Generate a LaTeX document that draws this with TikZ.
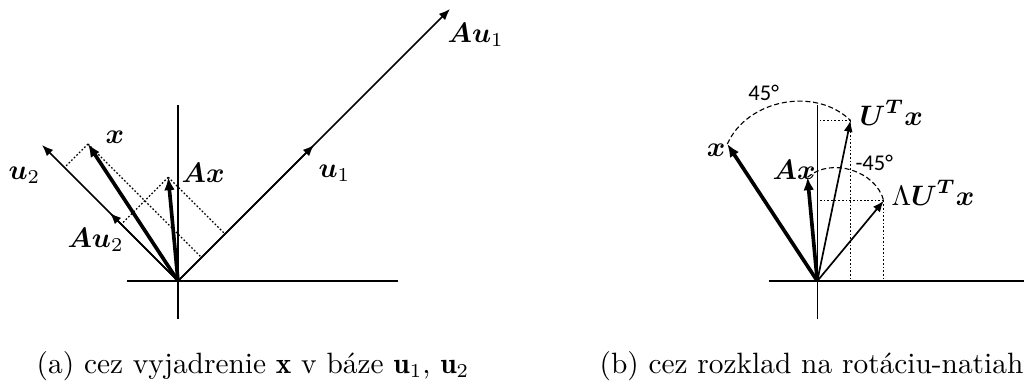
\documentclass[tikz,border=0pt]{standalone}
\usepackage{amsmath}
\usepackage{fontspec}
\newfontfamily\degfont{Carlito}
\usepackage{tikz}
\usetikzlibrary{arrows.meta}
\tikzset{
  axis/.style={line width=0.5pt},
  vec/.style={-{Latex[length=4pt,width=3.2pt]},line width=0.6pt},
  bvec/.style={vec,-{Latex[length=4.6pt,width=3.8pt]},line width=1.3pt},
  proj/.style={dash pattern=on 0.6pt off 0.7pt,line width=0.45pt},
  turn/.style={dash pattern=on 1.8pt off 1pt,line width=0.4pt},
  lbl/.style={anchor=west,inner sep=0pt},
  ang/.style={font=\degfont\footnotesize,inner sep=0pt},
  captxt/.style={font=\fontsize{10.45}{12.5}\selectfont,inner sep=0pt},
}

\begin{document}
\begin{tikzpicture}
  \useasboundingbox (0,0) rectangle (12.8,4.7625);
  % (a) x in the basis u1, u2
  \begin{scope}[shift={(2.225,1.25)}]
    \coordinate (o) at (0,0);
    \coordinate (u1) at (1.7,1.7);
    \coordinate (au1) at (3.4,3.4);
    \coordinate (u2) at (-1.7,1.7);
    \coordinate (au2) at (-0.85,0.85);
    \coordinate (x) at (-1.125,1.7125);
    \coordinate (ax) at (-0.122,1.297);
    \coordinate (px1) at (0.294,0.294);
    \coordinate (px2) at (-1.419,1.419);
    \coordinate (pa1) at (0.5875,0.5875);
    \coordinate (pa2) at (-0.709,0.709);
    \draw[axis] (-0.6375,0) -- (2.75,0);
    \draw[axis] (0,-0.475) -- (0,2.2);
    \draw[proj] (x) -- (px1);
    \draw[proj] (x) -- (px2);
    \draw[proj] (ax) -- (pa1);
    \draw[proj] (ax) -- (pa2);
    \draw[vec] (o) -- (au1);
    \draw[vec] (o) -- (u1);
    \draw[vec] (o) -- (u2);
    \draw[vec] (o) -- (au2);
    \draw[bvec] (o) -- (x);
    \draw[bvec] (o) -- (ax);
    \node[lbl] (lau1) at (3.3625,3.075) {$\boldsymbol{Au}_1$};
    \node[lbl] (lu1) at (1.75,1.35) {$\boldsymbol{u}_1$};
    \node[lbl] (lu2) at (-2.125,1.325) {$\boldsymbol{u}_2$};
    \node[lbl] (lx) at (-0.9125,1.8) {$\boldsymbol{x}$};
    \node[lbl] (lax) at (0.0375,1.35) {$\boldsymbol{Ax}$};
    \node[lbl] (lau2) at (-1.3875,0.5125) {$\boldsymbol{Au}_2$};
    \node[captxt,anchor=base] (capa) at (0.9375,-1.15) {(a) cez vyjadrenie $\mathbf{x}$ v báze $\mathbf{u}_1$, $\mathbf{u}_2$};
  \end{scope}
  % (b) rotation - stretch - rotation
  \begin{scope}[shift={(10.216,1.25)}]
    \coordinate (o) at (0,0);
    \coordinate (x) at (-1.125,1.7125);
    \coordinate (ax) at (-0.122,1.297);
    \coordinate (utx) at (0.4155,2.0065);
    \coordinate (lutx) at (0.831,1.003);
    \draw[axis] (-0.6075,0) -- (2.584,0);
    \draw[axis] (0,-0.475) -- (0,2.2);
    \draw[proj] (utx) -- (0,2.0065);
    \draw[proj] (utx) -- (0.4155,0);
    \draw[proj] (lutx) -- (0,1.003);
    \draw[proj] (lutx) -- (0.831,0);
    \draw[turn] (x) to[bend left=55] (utx);
    \draw[turn] (ax) to[bend left=58] (lutx);
    \draw[bvec] (o) -- (x);
    \draw[bvec] (o) -- (ax);
    \draw[vec] (o) -- (utx);
    \draw[vec] (o) -- (lutx);
    \node[lbl] (lx) at (-1.3875,1.6375) {$\boldsymbol{x}$};
    \node[lbl] (lax) at (-0.566,1.3875) {$\boldsymbol{Ax}$};
    \node[lbl] (lutx) at (0.5215,2.1) {$\boldsymbol{U}^{\boldsymbol{T}}\boldsymbol{x}$};
    \node[lbl] (llutx) at (0.9215,1.1) {$\Lambda\boldsymbol{U}^{\boldsymbol{T}}\boldsymbol{x}$};
    \node[ang] (rot1) at (-0.67,2.346) {45°};
    \node[ang,anchor=west] (rot2) at (0.4715,1.475) {-45°};
    \node[captxt,anchor=base west] (capb) at (-2.7285,-1.15) {(b) cez rozklad na rotáciu-natiahn};
  \end{scope}
\end{tikzpicture}
\end{document}
